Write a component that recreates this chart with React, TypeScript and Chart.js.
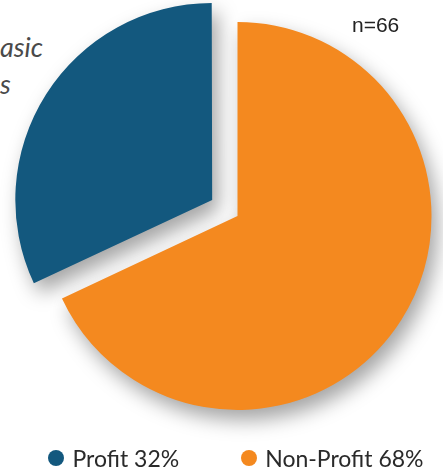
import React, { useEffect, useRef } from "react";
import { Chart, registerables } from "chart.js";

Chart.register(...registerables);

const labels = ["Profit", "Non-Profit"];
const values = [32, 68];
const colors = ["#13587e", "#f4891f"];
const sliceOffsets = [120, 0];
const sampleNote = "n=66";
const sideTextLines = ["asic", "s"];

const W = 443;
const H = 472;

const shadowPlugin = {
  id: "pieShadow",
  beforeDatasetsDraw(chart: any) {
    const ctx = chart.ctx;
    ctx.save();
    ctx.shadowColor = "rgba(0,0,0,0.36)";
    ctx.shadowBlur = 20;
    ctx.shadowOffsetX = 6;
    ctx.shadowOffsetY = 10;
  },
  afterDatasetsDraw(chart: any) {
    chart.ctx.restore();
  },
};

export default function App() {
  const ref = useRef<HTMLCanvasElement | null>(null);

  useEffect(() => {
    if (!ref.current) return;
    const total = values.reduce((a, b) => a + b, 0);
    const chart = new Chart(ref.current, {
      type: "pie",
      data: {
        labels,
        datasets: [
          {
            data: values,
            backgroundColor: colors,
            borderWidth: 0,
            offset: sliceOffsets,
            hoverOffset: 0,
            clip: false as any,
          },
        ],
      },
      options: {
        animation: false,
        responsive: false,
        devicePixelRatio: 1,
        radius: 194,
        rotation: (360 * values[1]) / total,
        layout: { padding: { left: 32, right: 0, top: 0, bottom: 40 } },
        plugins: {
          legend: { display: false },
          tooltip: { enabled: false },
        },
        events: [],
      } as any,
      plugins: [shadowPlugin],
    });
    return () => chart.destroy();
  }, []);

  return (
    <div
      style={{
        position: "fixed",
        left: 0,
        top: 0,
        width: W,
        height: H,
        overflow: "hidden",
        background: "#ffffff",
      }}
    >
      <div
        style={{
          position: "absolute",
          left: 0,
          top: 28,
          fontFamily: "Lato, sans-serif",
          fontStyle: "italic",
          fontSize: 27,
          lineHeight: "37px",
          color: "#4a4a4a",
          zIndex: 0,
        }}
      >
        {sideTextLines.map((t, i) => (
          <div key={i}>{t}</div>
        ))}
      </div>
      <canvas
        ref={ref}
        width={W}
        height={H}
        style={{ position: "absolute", left: 0, top: 0, width: W, height: H, zIndex: 1 }}
      />
      <div
        style={{
          position: "absolute",
          left: 352,
          top: 13,
          fontFamily: "'Liberation Sans', Arial, sans-serif",
          fontSize: 21,
          color: "#222",
          zIndex: 2,
        }}
      >
        {sampleNote}
      </div>
      <div
        style={{
          position: "absolute",
          left: 29,
          width: W - 29,
          top: 444,
          height: 28,
          display: "flex",
          justifyContent: "center",
          alignItems: "center",
          gap: 62,
          fontFamily: "Lato, sans-serif",
          fontSize: 23,
          color: "#2a2a2a",
          zIndex: 2,
          whiteSpace: "nowrap",
        }}
      >
        {labels.map((l, i) => (
          <div key={i} style={{ display: "flex", alignItems: "center" }}>
            <span
              style={{
                display: "inline-block",
                width: 16,
                height: 16,
                borderRadius: "50%",
                background: colors[i],
                marginRight: 8,
              }}
            />
            <span>{`${l} ${values[i]}%`}</span>
          </div>
        ))}
      </div>
    </div>
  );
}
